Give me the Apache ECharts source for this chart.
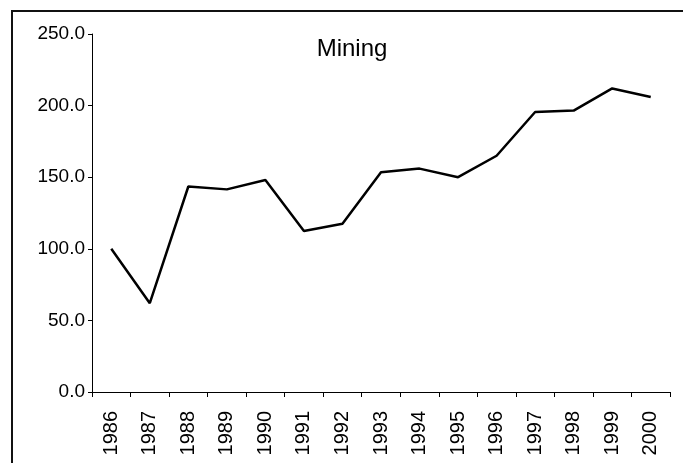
<!DOCTYPE html>
<html>
<head>
<meta charset="utf-8">
<script src="https://cdn.jsdelivr.net/npm/echarts@6/dist/echarts.min.js"></script>
<style>
html,body{margin:0;padding:0;background:#fff;}
#chart{width:683px;height:463px;}
</style>
</head>
<body>
<div id="chart"></div>
<script>
const years = ['1986','1987','1988','1989','1990','1991','1992','1993','1994','1995','1996','1997','1998','1999','2000'];
const mining = [100, 62, 143.5, 141.5, 148, 112.5, 117.5, 153.5, 156, 150, 165, 195.5, 196.5, 212, 206];
const titleText = 'Mining';

const chart = echarts.init(document.getElementById('chart'), null, {renderer: 'canvas'});
chart.setOption({
  animation: false,
  backgroundColor: '#ffffff',
  title: {
    text: titleText,
    left: 347,
    top: 32,
    textAlign: 'center',
    textStyle: {fontFamily: 'Liberation Sans', fontSize: 24, fontWeight: 'normal', color: '#000'}
  },
  graphic: [{
    type: 'polyline',
    shape: {points: [[12, 463], [12, 11], [683, 11]]},
    style: {stroke: '#111', lineWidth: 2, fill: null}
  }],
  grid: {left: 92, right: 13, top: 34, bottom: 71, containLabel: false},
  xAxis: {
    type: 'category',
    data: years,
    boundaryGap: true,
    axisLine: {lineStyle: {color: '#000', width: 1}},
    axisTick: {show: true, length: 5, lineStyle: {color: '#000'}},
    axisLabel: {rotate: 90, margin: 19, fontFamily: 'Liberation Sans', fontSize: 20, color: '#000', interval: 0}
  },
  yAxis: {
    type: 'value',
    min: 0, max: 250, interval: 50,
    axisLine: {show: true, lineStyle: {color: '#000', width: 1}},
    axisTick: {show: true, length: 4, lineStyle: {color: '#000'}},
    splitLine: {show: false},
    axisLabel: {margin: 7, fontFamily: 'Liberation Sans', fontSize: 19, color: '#000', formatter: v => v.toFixed(1)}
  },
  series: [{
    type: 'line',
    data: mining,
    showSymbol: false,
    symbol: 'none',
    lineStyle: {color: '#000', width: 2.5}
  }]
});
</script>
</body>
</html>
